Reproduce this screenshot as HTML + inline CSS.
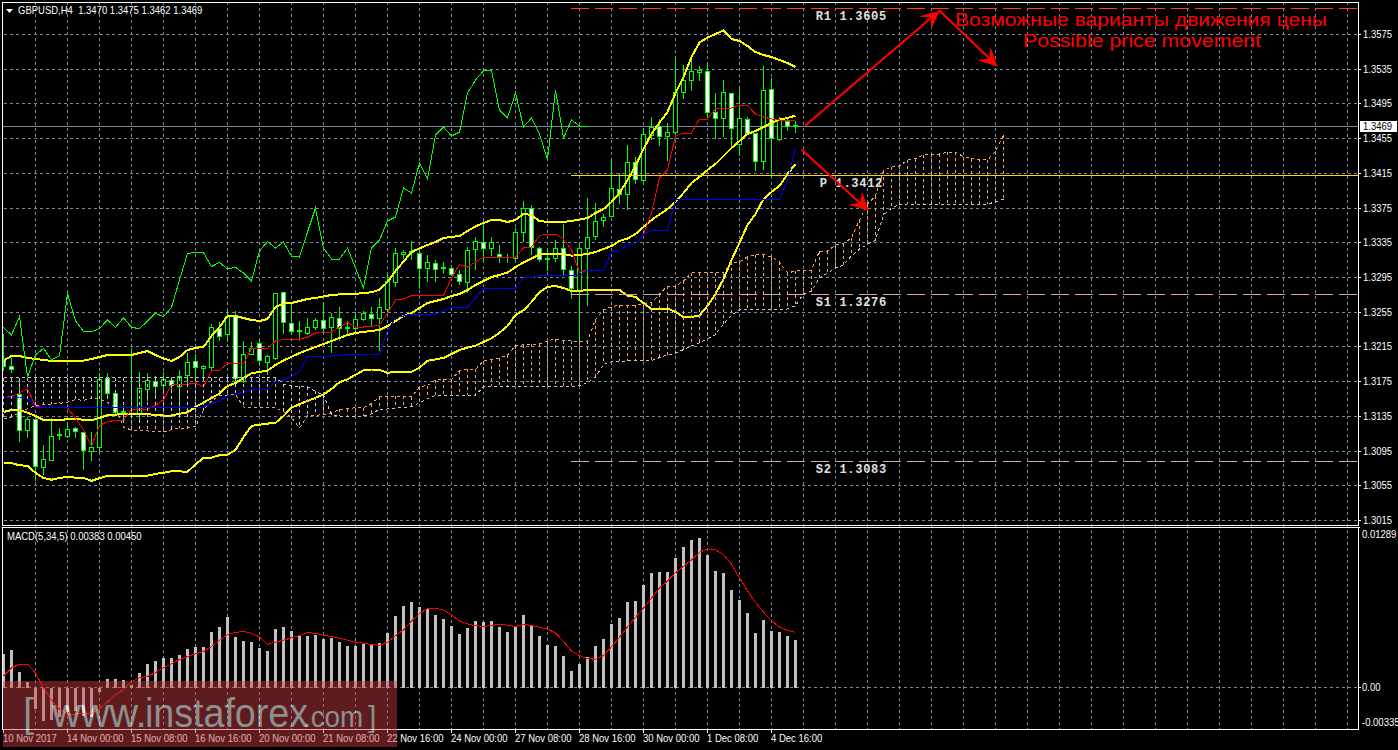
<!DOCTYPE html>
<html><head><meta charset="utf-8"><style>
html,body{margin:0;padding:0;background:#000;width:1398px;height:750px;overflow:hidden}
</style></head><body>
<svg width="1398" height="750" viewBox="0 0 1398 750" style="position:absolute;left:0;top:0">
<defs><clipPath id="cm"><rect x="3" y="3" width="1355" height="522"/></clipPath><clipPath id="cs"><rect x="3" y="528" width="1355" height="201"/></clipPath><mask id="wm"><rect x="0" y="0" width="1398" height="750" fill="#fff"/><text x="23" y="727" font-family="Liberation Sans" font-size="40" fill="#000">[</text><text x="52" y="727" font-family="Liberation Sans" font-size="40" textLength="86" lengthAdjust="spacingAndGlyphs" fill="#000">www</text><text x="135.5" y="727" font-family="Liberation Sans" font-size="40" fill="#000">.</text><text x="145" y="727" font-family="Liberation Sans" font-size="40" textLength="163" lengthAdjust="spacingAndGlyphs" fill="#000">instaforex</text><text x="303" y="727" font-family="Liberation Sans" font-size="30" textLength="60" lengthAdjust="spacingAndGlyphs" fill="#000">.com</text><text x="368" y="727" font-family="Liberation Sans" font-size="30" fill="#000">]</text></mask></defs>
<path d="M35.5,2V729M67.5,2V729M99.5,2V729M131.5,2V729M163.5,2V729M195.5,2V729M227.5,2V729M259.5,2V729M291.5,2V729M323.5,2V729M355.5,2V729M387.5,2V729M419.5,2V729M451.5,2V729M483.5,2V729M515.5,2V729M547.5,2V729M579.5,2V729M611.5,2V729M643.5,2V729M675.5,2V729M707.5,2V729M739.5,2V729M771.5,2V729M803.5,2V729M835.5,2V729M867.5,2V729M899.5,2V729M931.5,2V729M963.5,2V729M995.5,2V729M1027.5,2V729M1059.5,2V729M1091.5,2V729M1123.5,2V729M1155.5,2V729M1187.5,2V729M1219.5,2V729M1251.5,2V729M1283.5,2V729M1315.5,2V729M1347.5,2V729M4,34.5H1358M4,69.5H1358M4,103.5H1358M4,138.5H1358M4,173.5H1358M4,208.5H1358M4,242.5H1358M4,277.5H1358M4,312.5H1358M4,346.5H1358M4,381.5H1358M4,416.5H1358M4,451.5H1358M4,485.5H1358M4,520.5H1358M4,687.5H1358" stroke="#778899" stroke-width="1" stroke-dasharray="3 3" fill="none" shape-rendering="crispEdges"/>
<g clip-path="url(#cm)">
<path d="M3,126.5H1358" stroke="#778899" stroke-width="1" shape-rendering="crispEdges"/>
<path d="M3.5,334V371M11.5,358V373M19.5,380V442M27.5,417V438M35.5,419V481M43.5,445V475M51.5,418V461M59.5,428V440M67.5,422V438M75.5,427V438M83.5,432V470M91.5,432V461M99.5,373V452M107.5,373V397M115.5,393V414M123.5,406V420M131.5,348V418M139.5,372V420M147.5,373V401M155.5,376V396M163.5,372V392M171.5,377V390M179.5,370V418M187.5,353V385M195.5,354V382M203.5,365V379M211.5,324V370M219.5,322V341M227.5,310V342M235.5,311V387M243.5,341V383M251.5,342V355M259.5,340V366M267.5,355V375M275.5,293V360M283.5,292V334M291.5,304V335M299.5,321V341M307.5,318V335M315.5,318V330M323.5,302V332M331.5,313V353M339.5,307V341M347.5,321V336M355.5,312V332M363.5,311V321M371.5,307V327M379.5,298V351M387.5,274V313M395.5,248V287M403.5,250V259M411.5,241V260M419.5,250V289M427.5,255V282M435.5,260V282M443.5,262V274M451.5,265V276M459.5,270V285M467.5,247V293M475.5,237V270M483.5,221V263M491.5,237V256M499.5,245V263M507.5,254V263M515.5,228V260M523.5,201V242M531.5,205V255M539.5,247V262M547.5,248V271M555.5,240V262M563.5,224V275M571.5,266V299M579.5,243V342M587.5,198V306M595.5,203V240M603.5,214V227M611.5,160V217M619.5,173V204M627.5,145V210M635.5,157V184M643.5,128V183M651.5,117V140M659.5,119V146M667.5,123V161M675.5,56V139M683.5,65V99M691.5,60V91M699.5,66V81M707.5,62V119M715.5,93V139M723.5,80V137M731.5,93V147M739.5,89V156M747.5,117V135M755.5,133V171M763.5,66V170M771.5,78V177M779.5,117V141M787.5,117V131M795.5,121V133" stroke="#00ff00" stroke-width="1" shape-rendering="crispEdges"/>
<rect x="1.5" y="359.5" width="4" height="7" fill="#ffffff" stroke="#00ff00" stroke-width="1" shape-rendering="crispEdges"/>
<rect x="9.5" y="366.5" width="4" height="3" fill="#ffffff" stroke="#00ff00" stroke-width="1" shape-rendering="crispEdges"/>
<rect x="17.5" y="394.5" width="4" height="36" fill="#ffffff" stroke="#00ff00" stroke-width="1" shape-rendering="crispEdges"/>
<rect x="25.5" y="419.5" width="4" height="11" fill="#000000" stroke="#00ff00" stroke-width="1" shape-rendering="crispEdges"/>
<rect x="33.5" y="419.5" width="4" height="47" fill="#ffffff" stroke="#00ff00" stroke-width="1" shape-rendering="crispEdges"/>
<rect x="41.5" y="459.5" width="4" height="8" fill="#000000" stroke="#00ff00" stroke-width="1" shape-rendering="crispEdges"/>
<rect x="49.5" y="436.5" width="4" height="24" fill="#000000" stroke="#00ff00" stroke-width="1" shape-rendering="crispEdges"/>
<rect x="57" y="434" width="5" height="2" fill="#00ff00"/>
<rect x="65.5" y="429.5" width="4" height="7" fill="#000000" stroke="#00ff00" stroke-width="1" shape-rendering="crispEdges"/>
<rect x="73.5" y="428.5" width="4" height="3" fill="#ffffff" stroke="#00ff00" stroke-width="1" shape-rendering="crispEdges"/>
<rect x="81.5" y="432.5" width="4" height="18" fill="#ffffff" stroke="#00ff00" stroke-width="1" shape-rendering="crispEdges"/>
<rect x="89.5" y="447.5" width="4" height="4" fill="#000000" stroke="#00ff00" stroke-width="1" shape-rendering="crispEdges"/>
<rect x="97.5" y="379.5" width="4" height="68" fill="#000000" stroke="#00ff00" stroke-width="1" shape-rendering="crispEdges"/>
<rect x="105.5" y="378.5" width="4" height="15" fill="#ffffff" stroke="#00ff00" stroke-width="1" shape-rendering="crispEdges"/>
<rect x="113.5" y="393.5" width="4" height="19" fill="#ffffff" stroke="#00ff00" stroke-width="1" shape-rendering="crispEdges"/>
<rect x="121" y="411" width="5" height="2" fill="#00ff00"/>
<rect x="129" y="413" width="5" height="2" fill="#00ff00"/>
<rect x="137.5" y="388.5" width="4" height="26" fill="#000000" stroke="#00ff00" stroke-width="1" shape-rendering="crispEdges"/>
<rect x="145.5" y="380.5" width="4" height="9" fill="#000000" stroke="#00ff00" stroke-width="1" shape-rendering="crispEdges"/>
<rect x="153.5" y="381.5" width="4" height="5" fill="#ffffff" stroke="#00ff00" stroke-width="1" shape-rendering="crispEdges"/>
<rect x="161.5" y="379.5" width="4" height="6" fill="#000000" stroke="#00ff00" stroke-width="1" shape-rendering="crispEdges"/>
<rect x="169.5" y="380.5" width="4" height="5" fill="#ffffff" stroke="#00ff00" stroke-width="1" shape-rendering="crispEdges"/>
<rect x="177.5" y="376.5" width="4" height="10" fill="#000000" stroke="#00ff00" stroke-width="1" shape-rendering="crispEdges"/>
<rect x="185.5" y="362.5" width="4" height="13" fill="#000000" stroke="#00ff00" stroke-width="1" shape-rendering="crispEdges"/>
<rect x="193.5" y="361.5" width="4" height="6" fill="#ffffff" stroke="#00ff00" stroke-width="1" shape-rendering="crispEdges"/>
<rect x="201.5" y="366.5" width="4" height="2" fill="#000000" stroke="#00ff00" stroke-width="1" shape-rendering="crispEdges"/>
<rect x="209.5" y="327.5" width="4" height="40" fill="#000000" stroke="#00ff00" stroke-width="1" shape-rendering="crispEdges"/>
<rect x="217.5" y="328.5" width="4" height="8" fill="#ffffff" stroke="#00ff00" stroke-width="1" shape-rendering="crispEdges"/>
<rect x="225.5" y="316.5" width="4" height="18" fill="#000000" stroke="#00ff00" stroke-width="1" shape-rendering="crispEdges"/>
<rect x="233.5" y="316.5" width="4" height="62" fill="#ffffff" stroke="#00ff00" stroke-width="1" shape-rendering="crispEdges"/>
<rect x="241.5" y="354.5" width="4" height="27" fill="#000000" stroke="#00ff00" stroke-width="1" shape-rendering="crispEdges"/>
<rect x="249.5" y="348.5" width="4" height="6" fill="#000000" stroke="#00ff00" stroke-width="1" shape-rendering="crispEdges"/>
<rect x="257.5" y="343.5" width="4" height="17" fill="#ffffff" stroke="#00ff00" stroke-width="1" shape-rendering="crispEdges"/>
<rect x="265.5" y="356.5" width="4" height="6" fill="#000000" stroke="#00ff00" stroke-width="1" shape-rendering="crispEdges"/>
<rect x="273.5" y="293.5" width="4" height="65" fill="#000000" stroke="#00ff00" stroke-width="1" shape-rendering="crispEdges"/>
<rect x="281.5" y="292.5" width="4" height="30" fill="#ffffff" stroke="#00ff00" stroke-width="1" shape-rendering="crispEdges"/>
<rect x="289.5" y="323.5" width="4" height="8" fill="#ffffff" stroke="#00ff00" stroke-width="1" shape-rendering="crispEdges"/>
<rect x="297" y="330" width="5" height="2" fill="#00ff00"/>
<rect x="305.5" y="327.5" width="4" height="6" fill="#000000" stroke="#00ff00" stroke-width="1" shape-rendering="crispEdges"/>
<rect x="313.5" y="320.5" width="4" height="7" fill="#000000" stroke="#00ff00" stroke-width="1" shape-rendering="crispEdges"/>
<rect x="321.5" y="320.5" width="4" height="8" fill="#ffffff" stroke="#00ff00" stroke-width="1" shape-rendering="crispEdges"/>
<rect x="329.5" y="317.5" width="4" height="10" fill="#000000" stroke="#00ff00" stroke-width="1" shape-rendering="crispEdges"/>
<rect x="337.5" y="318.5" width="4" height="10" fill="#ffffff" stroke="#00ff00" stroke-width="1" shape-rendering="crispEdges"/>
<rect x="345" y="327" width="5" height="2" fill="#00ff00"/>
<rect x="353.5" y="319.5" width="4" height="9" fill="#000000" stroke="#00ff00" stroke-width="1" shape-rendering="crispEdges"/>
<rect x="361.5" y="313.5" width="4" height="6" fill="#000000" stroke="#00ff00" stroke-width="1" shape-rendering="crispEdges"/>
<rect x="369.5" y="314.5" width="4" height="4" fill="#ffffff" stroke="#00ff00" stroke-width="1" shape-rendering="crispEdges"/>
<rect x="377.5" y="307.5" width="4" height="11" fill="#000000" stroke="#00ff00" stroke-width="1" shape-rendering="crispEdges"/>
<rect x="385.5" y="281.5" width="4" height="28" fill="#000000" stroke="#00ff00" stroke-width="1" shape-rendering="crispEdges"/>
<rect x="393.5" y="253.5" width="4" height="29" fill="#000000" stroke="#00ff00" stroke-width="1" shape-rendering="crispEdges"/>
<rect x="401.5" y="252.5" width="4" height="2" fill="#000000" stroke="#00ff00" stroke-width="1" shape-rendering="crispEdges"/>
<rect x="409" y="251" width="5" height="2" fill="#00ff00"/>
<rect x="417.5" y="253.5" width="4" height="15" fill="#ffffff" stroke="#00ff00" stroke-width="1" shape-rendering="crispEdges"/>
<rect x="425.5" y="262.5" width="4" height="6" fill="#000000" stroke="#00ff00" stroke-width="1" shape-rendering="crispEdges"/>
<rect x="433.5" y="263.5" width="4" height="6" fill="#ffffff" stroke="#00ff00" stroke-width="1" shape-rendering="crispEdges"/>
<rect x="441" y="267" width="5" height="2" fill="#00ff00"/>
<rect x="449.5" y="268.5" width="4" height="6" fill="#ffffff" stroke="#00ff00" stroke-width="1" shape-rendering="crispEdges"/>
<rect x="457.5" y="274.5" width="4" height="7" fill="#ffffff" stroke="#00ff00" stroke-width="1" shape-rendering="crispEdges"/>
<rect x="465.5" y="250.5" width="4" height="32" fill="#000000" stroke="#00ff00" stroke-width="1" shape-rendering="crispEdges"/>
<rect x="473.5" y="241.5" width="4" height="8" fill="#000000" stroke="#00ff00" stroke-width="1" shape-rendering="crispEdges"/>
<rect x="481.5" y="242.5" width="4" height="6" fill="#ffffff" stroke="#00ff00" stroke-width="1" shape-rendering="crispEdges"/>
<rect x="489.5" y="242.5" width="4" height="6" fill="#000000" stroke="#00ff00" stroke-width="1" shape-rendering="crispEdges"/>
<rect x="497.5" y="254.5" width="4" height="2" fill="#ffffff" stroke="#00ff00" stroke-width="1" shape-rendering="crispEdges"/>
<rect x="505" y="257" width="5" height="1" fill="#00ff00"/>
<rect x="513.5" y="232.5" width="4" height="26" fill="#000000" stroke="#00ff00" stroke-width="1" shape-rendering="crispEdges"/>
<rect x="521.5" y="208.5" width="4" height="24" fill="#000000" stroke="#00ff00" stroke-width="1" shape-rendering="crispEdges"/>
<rect x="529.5" y="208.5" width="4" height="39" fill="#ffffff" stroke="#00ff00" stroke-width="1" shape-rendering="crispEdges"/>
<rect x="537.5" y="248.5" width="4" height="11" fill="#ffffff" stroke="#00ff00" stroke-width="1" shape-rendering="crispEdges"/>
<rect x="545" y="258" width="5" height="2" fill="#00ff00"/>
<rect x="553.5" y="248.5" width="4" height="10" fill="#000000" stroke="#00ff00" stroke-width="1" shape-rendering="crispEdges"/>
<rect x="561.5" y="248.5" width="4" height="21" fill="#ffffff" stroke="#00ff00" stroke-width="1" shape-rendering="crispEdges"/>
<rect x="569.5" y="270.5" width="4" height="18" fill="#ffffff" stroke="#00ff00" stroke-width="1" shape-rendering="crispEdges"/>
<rect x="577.5" y="248.5" width="4" height="42" fill="#000000" stroke="#00ff00" stroke-width="1" shape-rendering="crispEdges"/>
<rect x="585.5" y="237.5" width="4" height="11" fill="#000000" stroke="#00ff00" stroke-width="1" shape-rendering="crispEdges"/>
<rect x="593.5" y="221.5" width="4" height="15" fill="#000000" stroke="#00ff00" stroke-width="1" shape-rendering="crispEdges"/>
<rect x="601.5" y="217.5" width="4" height="3" fill="#000000" stroke="#00ff00" stroke-width="1" shape-rendering="crispEdges"/>
<rect x="609.5" y="188.5" width="4" height="28" fill="#000000" stroke="#00ff00" stroke-width="1" shape-rendering="crispEdges"/>
<rect x="617.5" y="189.5" width="4" height="5" fill="#ffffff" stroke="#00ff00" stroke-width="1" shape-rendering="crispEdges"/>
<rect x="625.5" y="162.5" width="4" height="32" fill="#000000" stroke="#00ff00" stroke-width="1" shape-rendering="crispEdges"/>
<rect x="633.5" y="162.5" width="4" height="17" fill="#ffffff" stroke="#00ff00" stroke-width="1" shape-rendering="crispEdges"/>
<rect x="641.5" y="134.5" width="4" height="46" fill="#000000" stroke="#00ff00" stroke-width="1" shape-rendering="crispEdges"/>
<rect x="649.5" y="127.5" width="4" height="8" fill="#000000" stroke="#00ff00" stroke-width="1" shape-rendering="crispEdges"/>
<rect x="657.5" y="126.5" width="4" height="10" fill="#ffffff" stroke="#00ff00" stroke-width="1" shape-rendering="crispEdges"/>
<rect x="665.5" y="132.5" width="4" height="4" fill="#000000" stroke="#00ff00" stroke-width="1" shape-rendering="crispEdges"/>
<rect x="673.5" y="92.5" width="4" height="40" fill="#000000" stroke="#00ff00" stroke-width="1" shape-rendering="crispEdges"/>
<rect x="681.5" y="80.5" width="4" height="12" fill="#000000" stroke="#00ff00" stroke-width="1" shape-rendering="crispEdges"/>
<rect x="689.5" y="71.5" width="4" height="9" fill="#000000" stroke="#00ff00" stroke-width="1" shape-rendering="crispEdges"/>
<rect x="697.5" y="70.5" width="4" height="2" fill="#000000" stroke="#00ff00" stroke-width="1" shape-rendering="crispEdges"/>
<rect x="705.5" y="71.5" width="4" height="41" fill="#ffffff" stroke="#00ff00" stroke-width="1" shape-rendering="crispEdges"/>
<rect x="713.5" y="112.5" width="4" height="6" fill="#ffffff" stroke="#00ff00" stroke-width="1" shape-rendering="crispEdges"/>
<rect x="721.5" y="92.5" width="4" height="26" fill="#000000" stroke="#00ff00" stroke-width="1" shape-rendering="crispEdges"/>
<rect x="729.5" y="93.5" width="4" height="35" fill="#ffffff" stroke="#00ff00" stroke-width="1" shape-rendering="crispEdges"/>
<rect x="737.5" y="118.5" width="4" height="26" fill="#000000" stroke="#00ff00" stroke-width="1" shape-rendering="crispEdges"/>
<rect x="745.5" y="119.5" width="4" height="14" fill="#ffffff" stroke="#00ff00" stroke-width="1" shape-rendering="crispEdges"/>
<rect x="753.5" y="133.5" width="4" height="28" fill="#ffffff" stroke="#00ff00" stroke-width="1" shape-rendering="crispEdges"/>
<rect x="761.5" y="90.5" width="4" height="71" fill="#000000" stroke="#00ff00" stroke-width="1" shape-rendering="crispEdges"/>
<rect x="769.5" y="89.5" width="4" height="49" fill="#ffffff" stroke="#00ff00" stroke-width="1" shape-rendering="crispEdges"/>
<rect x="777.5" y="120.5" width="4" height="19" fill="#000000" stroke="#00ff00" stroke-width="1" shape-rendering="crispEdges"/>
<rect x="785.5" y="121.5" width="4" height="5" fill="#ffffff" stroke="#00ff00" stroke-width="1" shape-rendering="crispEdges"/>
<rect x="793" y="125" width="5" height="2" fill="#00ff00"/>
<polyline points="3.5,360.5 11.5,356.0 19.5,356.0 27.5,358.0 35.5,359.0 43.5,360.0 51.5,361.0 59.5,361.0 67.5,360.6 75.5,361.0 83.5,360.6 91.5,359.0 99.5,357.0 107.5,355.0 115.5,355.0 123.5,355.0 131.5,355.0 139.5,353.0 147.5,351.0 155.5,355.0 163.5,358.5 171.5,361.0 179.5,357.0 187.5,350.0 195.5,348.0 203.5,347.0 211.5,336.0 219.5,327.0 227.5,316.0 235.5,316.0 243.5,318.0 251.5,320.0 259.5,321.0 267.5,319.0 275.5,307.0 283.5,303.6 291.5,303.0 299.5,301.0 307.5,299.0 315.5,298.0 323.5,296.4 331.5,295.0 339.5,294.4 347.5,294.0 355.5,294.0 363.5,293.0 371.5,292.3 379.5,289.8 387.5,282.0 395.5,271.0 403.5,261.6 411.5,252.0 419.5,248.3 427.5,245.0 435.5,242.0 443.5,238.0 451.5,237.0 459.5,236.0 467.5,231.0 475.5,226.4 483.5,223.0 491.5,220.0 499.5,220.0 507.5,222.0 515.5,220.0 523.5,214.0 531.5,215.0 539.5,221.0 547.5,222.0 555.5,222.0 563.5,222.0 571.5,221.0 579.5,219.6 587.5,218.0 595.5,213.0 603.5,209.0 611.5,202.0 619.5,193.0 627.5,180.0 635.5,166.0 643.5,149.0 651.5,134.0 659.5,122.5 667.5,112.0 675.5,93.0 683.5,77.0 691.5,57.0 699.5,42.5 707.5,37.5 715.5,34.0 723.5,30.5 731.5,39.0 739.5,41.0 747.5,46.0 755.5,52.0 763.5,55.0 771.5,57.0 779.5,60.0 787.5,63.0 795.5,67.0" stroke="#ffff00" stroke-width="2" fill="none" stroke-linejoin="round" shape-rendering="crispEdges"/>
<polyline points="3.5,412.0 11.5,410.0 19.5,410.0 27.5,412.6 35.5,415.9 43.5,420.0 51.5,420.4 59.5,420.4 67.5,419.0 75.5,419.0 83.5,419.7 91.5,420.4 99.5,417.8 107.5,415.2 115.5,414.6 123.5,414.0 131.5,414.0 139.5,414.2 147.5,414.0 155.5,415.2 163.5,415.5 171.5,415.5 179.5,413.8 187.5,412.3 195.5,407.0 203.5,402.6 211.5,398.0 219.5,393.6 227.5,386.0 235.5,383.0 243.5,377.8 251.5,373.3 259.5,371.8 267.5,370.7 275.5,365.0 283.5,360.5 291.5,356.8 299.5,353.0 307.5,350.0 315.5,347.0 323.5,344.0 331.5,341.0 339.5,338.0 347.5,335.0 355.5,333.0 363.5,332.0 371.5,331.0 379.5,330.0 387.5,326.0 395.5,321.0 403.5,316.0 411.5,313.0 419.5,308.0 427.5,303.0 435.5,301.0 443.5,299.0 451.5,296.0 459.5,294.0 467.5,290.0 475.5,285.0 483.5,281.0 491.5,277.0 499.5,275.0 507.5,272.5 515.5,267.0 523.5,262.5 531.5,258.5 539.5,254.5 547.5,254.0 555.5,253.6 563.5,254.0 571.5,255.6 579.5,255.0 587.5,254.0 595.5,252.0 603.5,249.0 611.5,246.0 619.5,241.0 627.5,238.5 635.5,234.0 643.5,227.0 651.5,220.0 659.5,214.5 667.5,209.0 675.5,202.0 683.5,193.0 691.5,183.0 699.5,177.0 707.5,170.0 715.5,164.0 723.5,156.0 731.5,148.0 739.5,141.0 747.5,134.0 755.5,131.0 763.5,127.0 771.5,123.0 779.5,119.5 787.5,118.0 795.5,115.6" stroke="#ffff00" stroke-width="2" fill="none" stroke-linejoin="round" shape-rendering="crispEdges"/>
<polyline points="3.5,463.2 11.5,463.2 19.5,465.3 27.5,465.8 35.5,472.8 43.5,478.0 51.5,479.7 59.5,478.0 67.5,477.0 75.5,477.6 83.5,478.0 91.5,480.8 99.5,478.2 107.5,475.7 115.5,475.7 123.5,475.7 131.5,475.7 139.5,475.7 147.5,475.7 155.5,473.9 163.5,472.8 171.5,471.2 179.5,471.4 187.5,471.8 195.5,464.3 203.5,457.9 211.5,457.6 219.5,455.2 227.5,454.7 235.5,450.0 243.5,437.0 251.5,425.9 259.5,424.8 267.5,423.6 275.5,422.9 283.5,416.0 291.5,407.8 299.5,404.0 307.5,401.0 315.5,397.8 323.5,394.3 331.5,389.0 339.5,382.3 347.5,379.3 355.5,374.8 363.5,370.3 371.5,369.5 379.5,370.0 387.5,372.8 395.5,372.0 403.5,372.0 411.5,371.9 419.5,367.6 427.5,360.7 435.5,359.4 443.5,357.9 451.5,354.0 459.5,350.0 467.5,347.6 475.5,345.7 483.5,342.0 491.5,338.3 499.5,332.7 507.5,326.0 515.5,315.0 523.5,310.3 531.5,302.0 539.5,292.0 547.5,287.0 555.5,286.0 563.5,288.0 571.5,291.0 579.5,291.0 587.5,290.0 595.5,290.0 603.5,290.0 611.5,290.4 619.5,290.0 627.5,295.6 635.5,297.0 643.5,303.0 651.5,309.0 659.5,309.0 667.5,308.5 675.5,312.0 683.5,317.0 691.5,317.0 699.5,315.4 707.5,305.8 715.5,294.0 723.5,279.0 731.5,260.0 739.5,242.8 747.5,225.0 755.5,214.0 763.5,199.0 771.5,192.0 779.5,186.0 787.5,174.0 795.5,164.0" stroke="#ffff00" stroke-width="2" fill="none" stroke-linejoin="round" shape-rendering="crispEdges"/>
<polyline points="3.5,397.5 11.5,396.5 19.5,392.7 27.5,388.8 35.5,406.5 43.5,407.5 51.5,407.5 59.5,407.5 67.5,408.0 75.5,418.0 83.5,430.0 91.5,446.0 99.5,425.5 107.5,421.6 115.5,420.4 123.5,420.4 131.5,409.4 139.5,409.4 147.5,409.0 155.5,405.6 163.5,399.5 171.5,384.3 179.5,384.3 187.5,384.2 195.5,383.3 203.5,386.5 211.5,371.0 219.5,370.3 227.5,363.6 235.5,363.6 243.5,363.6 251.5,349.0 259.5,348.4 267.5,348.4 275.5,341.0 283.5,339.6 291.5,339.0 299.5,339.0 307.5,337.0 315.5,333.0 323.5,332.0 331.5,332.0 339.5,327.0 347.5,322.4 355.5,327.0 363.5,327.0 371.5,326.4 379.5,325.0 387.5,313.0 395.5,300.0 403.5,299.0 411.5,295.6 419.5,295.6 427.5,295.6 435.5,295.6 443.5,295.6 451.5,278.0 459.5,264.4 467.5,267.0 475.5,262.0 483.5,257.0 491.5,257.0 499.5,257.0 507.5,257.0 515.5,257.0 523.5,248.0 531.5,247.0 539.5,235.6 547.5,234.0 555.5,234.0 563.5,239.0 571.5,250.0 579.5,272.4 587.5,270.0 595.5,270.0 603.5,270.0 611.5,252.0 619.5,251.0 627.5,244.4 635.5,244.0 643.5,234.4 651.5,213.0 659.5,178.0 667.5,170.0 675.5,136.0 683.5,133.0 691.5,133.0 699.5,119.0 707.5,119.0 715.5,108.4 723.5,108.4 731.5,108.0 739.5,105.0 747.5,105.6 755.5,114.0 763.5,117.0 771.5,119.0 779.5,120.0 787.5,120.0 795.5,120.4" stroke="#ff0000" stroke-width="1" fill="none" shape-rendering="crispEdges"/>
<polyline points="3.5,397.5 11.5,397.5 19.5,397.5 27.5,397.5 35.5,407.4 43.5,407.4 51.5,407.4 59.5,407.4 67.5,407.4 75.5,407.4 83.5,407.4 91.5,407.4 99.5,407.4 107.5,407.4 115.5,407.4 123.5,407.4 131.5,407.4 139.5,407.4 147.5,407.4 155.5,407.4 163.5,407.4 171.5,407.4 179.5,407.4 187.5,407.4 195.5,407.4 203.5,407.0 211.5,403.3 219.5,401.0 227.5,395.6 235.5,394.3 243.5,392.0 251.5,389.4 259.5,389.4 267.5,389.4 275.5,381.8 283.5,380.0 291.5,376.3 299.5,371.8 307.5,356.5 315.5,356.5 323.5,356.3 331.5,356.0 339.5,355.5 347.5,354.5 355.5,354.3 363.5,354.2 371.5,354.0 379.5,354.0 387.5,331.0 395.5,317.6 403.5,316.0 411.5,314.0 419.5,314.0 427.5,314.0 435.5,314.0 443.5,311.0 451.5,307.7 459.5,307.3 467.5,307.2 475.5,298.0 483.5,288.0 491.5,288.0 499.5,288.0 507.5,288.0 515.5,288.0 523.5,277.6 531.5,277.6 539.5,275.6 547.5,275.6 555.5,275.6 563.5,275.6 571.5,275.6 579.5,275.6 587.5,270.0 595.5,270.0 603.5,270.0 611.5,252.0 619.5,251.0 627.5,244.4 635.5,244.0 643.5,234.4 651.5,230.0 659.5,230.0 667.5,230.0 675.5,200.0 683.5,199.6 691.5,199.6 699.5,199.6 707.5,199.6 715.5,199.6 723.5,199.6 731.5,199.6 739.5,199.6 747.5,199.6 755.5,199.6 763.5,199.6 771.5,199.6 779.5,199.6 787.5,180.0 795.5,148.0" stroke="#0000ff" stroke-width="1" fill="none" shape-rendering="crispEdges"/>
<polyline points="3.5,327.5 11.5,335.0 19.5,316.6 27.5,377.0 35.5,355.0 43.5,348.4 51.5,360.0 59.5,355.8 67.5,293.6 75.5,321.0 83.5,331.6 91.5,331.6 99.5,328.5 107.5,320.0 115.5,327.4 123.5,317.8 131.5,327.4 139.5,328.6 147.5,321.0 155.5,313.2 163.5,316.8 171.5,307.2 179.5,280.0 187.5,253.3 195.5,252.6 203.5,252.6 211.5,266.5 219.5,262.4 227.5,269.0 235.5,267.4 243.5,273.0 251.5,281.0 259.5,251.0 267.5,241.6 275.5,248.0 283.5,242.0 291.5,256.0 299.5,257.0 307.5,232.0 315.5,208.0 323.5,248.0 331.5,259.0 339.5,259.0 347.5,248.0 355.5,268.0 363.5,288.0 371.5,248.0 379.5,240.0 387.5,221.0 395.5,217.0 403.5,188.0 411.5,193.0 419.5,163.0 427.5,179.0 435.5,135.0 443.5,127.0 451.5,136.0 459.5,132.0 467.5,93.0 475.5,80.0 483.5,71.0 491.5,70.0 499.5,110.0 507.5,118.0 515.5,93.0 523.5,127.0 531.5,118.0 539.5,134.0 547.5,160.0 555.5,90.0 563.5,138.0 571.5,120.0 579.5,126.0 587.5,126.0" stroke="#00ff00" stroke-width="1" fill="none" shape-rendering="crispEdges"/>
<path d="M3.5,334V370" stroke="#00ff00" stroke-width="1" shape-rendering="crispEdges"/>
<path d="M331.5,413.0V414.6M339.5,409.3V416.0M347.5,408.6V416.0M355.5,407.8V416.0M363.5,407.8V416.0M371.5,403.5V413.9M379.5,397.0V409.2M387.5,396.0V409.0M395.5,396.0V408.3M403.5,396.0V407.3M411.5,397.0V406.8M419.5,386.8V402.7M427.5,385.5V398.9M435.5,380.0V395.2M443.5,379.3V395.2M451.5,379.3V395.2M459.5,370.6V395.2M467.5,369.4V395.2M475.5,369.4V395.2M483.5,360.7V386.8M491.5,359.7V386.2M499.5,357.9V386.2M507.5,355.0V386.2M515.5,345.7V386.2M523.5,344.8V386.2M531.5,344.4V386.2M539.5,343.9V386.2M547.5,340.7V386.2M555.5,339.2V386.2M563.5,340.7V386.2M571.5,341.0V386.8M579.5,341.0V385.8M587.5,341.0V382.6M595.5,319.6V377.0M603.5,310.0V364.4M611.5,306.8V361.9M619.5,305.0V361.0M627.5,305.0V361.0M635.5,305.0V360.6M643.5,304.7V360.6M651.5,302.6V360.6M659.5,294.0V357.6M667.5,286.0V354.8M675.5,286.0V353.3M683.5,281.0V349.5M691.5,272.7V346.3M699.5,272.7V342.7M707.5,272.7V338.8M715.5,272.7V334.6M723.5,272.7V324.0M731.5,262.0V315.4M739.5,262.0V310.0M747.5,256.7V309.4M755.5,254.5V309.4M763.5,254.5V309.4M771.5,257.0V309.6M779.5,262.0V309.6M787.5,273.0V309.0M795.5,271.0V305.6M803.5,270.0V294.0M811.5,270.0V291.0M819.5,251.0V278.0M827.5,251.0V273.0M835.5,245.0V268.0M843.5,243.6V265.0M851.5,238.0V256.0M859.5,220.0V249.0M867.5,204.0V244.4M875.5,196.0V240.0M883.5,170.7V215.0M891.5,167.0V208.0M899.5,166.0V204.3M907.5,160.0V204.0M915.5,158.7V204.0M923.5,155.0V204.0M931.5,154.4V204.0M939.5,154.0V204.0M947.5,152.3V204.0M955.5,152.3V204.0M963.5,156.7V204.0M971.5,158.7V204.0M979.5,159.3V204.0M987.5,160.0V204.0M995.5,151.3V202.0M1003.5,135.3V199.3" stroke="#f4a460" stroke-width="1" stroke-dasharray="3 3" fill="none" shape-rendering="crispEdges"/>
<path d="M3.5,377.5V418.4M11.5,377.5V417.8M19.5,377.5V412.0M27.5,377.5V408.8M35.5,377.5V405.6M43.5,377.5V404.7M51.5,377.5V404.3M59.5,377.5V403.4M67.5,377.5V402.3M75.5,377.5V399.5M83.5,377.5V400.4M91.5,377.5V398.7M99.5,377.5V399.0M107.5,377.5V402.3M115.5,377.5V408.0M123.5,377.5V427.4M131.5,377.5V430.0M139.5,377.5V430.7M147.5,377.5V431.0M155.5,377.5V431.5M163.5,377.5V432.0M171.5,377.5V429.4M179.5,377.5V428.0M187.5,377.5V428.0M195.5,377.5V426.6M203.5,377.5V410.0M211.5,377.5V401.0M219.5,377.5V395.8M227.5,377.5V395.0M235.5,377.5V394.3M243.5,377.5V407.0M251.5,377.5V407.8M259.5,377.5V407.8M267.5,377.5V407.8M275.5,377.8V407.8M283.5,383.8V411.6M291.5,386.0V417.6M299.5,386.0V428.0M307.5,386.8V416.0M315.5,391.3V415.3M323.5,395.0V414.6" stroke="#d8bfd8" stroke-width="1" stroke-dasharray="3 3" fill="none" shape-rendering="crispEdges"/>
<polyline points="3.5,418.4 11.5,417.8 19.5,412.0 27.5,408.8 35.5,405.6 43.5,404.7 51.5,404.3 59.5,403.4 67.5,402.3 75.5,399.5 83.5,400.4 91.5,398.7 99.5,399.0 107.5,402.3 115.5,408.0 123.5,427.4 131.5,430.0 139.5,430.7 147.5,431.0 155.5,431.5 163.5,432.0 171.5,429.4 179.5,428.0 187.5,428.0 195.5,426.6 203.5,410.0 211.5,401.0 219.5,395.8 227.5,395.0 235.5,394.3 243.5,407.0 251.5,407.8 259.5,407.8 267.5,407.8 275.5,407.8 283.5,411.6 291.5,417.6 299.5,428.0 307.5,416.0 315.5,415.3 323.5,414.6 331.5,413.0 339.5,409.3 347.5,408.6 355.5,407.8 363.5,407.8 371.5,403.5 379.5,397.0 387.5,396.0 395.5,396.0 403.5,396.0 411.5,397.0 419.5,386.8 427.5,385.5 435.5,380.0 443.5,379.3 451.5,379.3 459.5,370.6 467.5,369.4 475.5,369.4 483.5,360.7 491.5,359.7 499.5,357.9 507.5,355.0 515.5,345.7 523.5,344.8 531.5,344.4 539.5,343.9 547.5,340.7 555.5,339.2 563.5,340.7 571.5,341.0 579.5,341.0 587.5,341.0 595.5,319.6 603.5,310.0 611.5,306.8 619.5,305.0 627.5,305.0 635.5,305.0 643.5,304.7 651.5,302.6 659.5,294.0 667.5,286.0 675.5,286.0 683.5,281.0 691.5,272.7 699.5,272.7 707.5,272.7 715.5,272.7 723.5,272.7 731.5,262.0 739.5,262.0 747.5,256.7 755.5,254.5 763.5,254.5 771.5,257.0 779.5,262.0 787.5,273.0 795.5,271.0 803.5,270.0 811.5,270.0 819.5,251.0 827.5,251.0 835.5,245.0 843.5,243.6 851.5,238.0 859.5,220.0 867.5,204.0 875.5,196.0 883.5,170.7 891.5,167.0 899.5,166.0 907.5,160.0 915.5,158.7 923.5,155.0 931.5,154.4 939.5,154.0 947.5,152.3 955.5,152.3 963.5,156.7 971.5,158.7 979.5,159.3 987.5,160.0 995.5,151.3 1003.5,135.3" stroke="#f4a460" stroke-width="1" stroke-dasharray="3 3" fill="none" shape-rendering="crispEdges"/>
<polyline points="3.5,377.5 11.5,377.5 19.5,377.5 27.5,377.5 35.5,377.5 43.5,377.5 51.5,377.5 59.5,377.5 67.5,377.5 75.5,377.5 83.5,377.5 91.5,377.5 99.5,377.5 107.5,377.5 115.5,377.5 123.5,377.5 131.5,377.5 139.5,377.5 147.5,377.5 155.5,377.5 163.5,377.5 171.5,377.5 179.5,377.5 187.5,377.5 195.5,377.5 203.5,377.5 211.5,377.5 219.5,377.5 227.5,377.5 235.5,377.5 243.5,377.5 251.5,377.5 259.5,377.5 267.5,377.5 275.5,377.8 283.5,383.8 291.5,386.0 299.5,386.0 307.5,386.8 315.5,391.3 323.5,395.0 331.5,414.6 339.5,416.0 347.5,416.0 355.5,416.0 363.5,416.0 371.5,413.9 379.5,409.2 387.5,409.0 395.5,408.3 403.5,407.3 411.5,406.8 419.5,402.7 427.5,398.9 435.5,395.2 443.5,395.2 451.5,395.2 459.5,395.2 467.5,395.2 475.5,395.2 483.5,386.8 491.5,386.2 499.5,386.2 507.5,386.2 515.5,386.2 523.5,386.2 531.5,386.2 539.5,386.2 547.5,386.2 555.5,386.2 563.5,386.2 571.5,386.8 579.5,385.8 587.5,382.6 595.5,377.0 603.5,364.4 611.5,361.9 619.5,361.0 627.5,361.0 635.5,360.6 643.5,360.6 651.5,360.6 659.5,357.6 667.5,354.8 675.5,353.3 683.5,349.5 691.5,346.3 699.5,342.7 707.5,338.8 715.5,334.6 723.5,324.0 731.5,315.4 739.5,310.0 747.5,309.4 755.5,309.4 763.5,309.4 771.5,309.6 779.5,309.6 787.5,309.0 795.5,305.6 803.5,294.0 811.5,291.0 819.5,278.0 827.5,273.0 835.5,268.0 843.5,265.0 851.5,256.0 859.5,249.0 867.5,244.4 875.5,240.0 883.5,215.0 891.5,208.0 899.5,204.3 907.5,204.0 915.5,204.0 923.5,204.0 931.5,204.0 939.5,204.0 947.5,204.0 955.5,204.0 963.5,204.0 971.5,204.0 979.5,204.0 987.5,204.0 995.5,202.0 1003.5,199.3" stroke="#d8bfd8" stroke-width="1" stroke-dasharray="3 3" fill="none" shape-rendering="crispEdges"/>
<path d="M571,8.5H1358" stroke="#ff4500" stroke-width="1" stroke-dasharray="18 6" shape-rendering="crispEdges"/>
<path d="M571,175.5H1358" stroke="#ffd700" stroke-width="1" shape-rendering="crispEdges"/>
<path d="M571,294.5H1358" stroke="#d8a0a0" stroke-width="1" stroke-dasharray="18 6" shape-rendering="crispEdges"/>
<path d="M571,461.5H1358" stroke="#d8a0a0" stroke-width="1" stroke-dasharray="18 6" shape-rendering="crispEdges"/>
<text transform="translate(851,19.5) scale(0.91,1)" x="0.35" y="0" font-family="Liberation Mono" font-weight="bold" font-size="13.33" fill="#e0e0e0" text-anchor="middle" letter-spacing="0.7">R1 1.3605</text>
<text transform="translate(851,186.5) scale(0.91,1)" x="0.35" y="0" font-family="Liberation Mono" font-weight="bold" font-size="13.33" fill="#e0e0e0" text-anchor="middle" letter-spacing="0.7">P 1.3412</text>
<text transform="translate(851,305.5) scale(0.91,1)" x="0.35" y="0" font-family="Liberation Mono" font-weight="bold" font-size="13.33" fill="#e0e0e0" text-anchor="middle" letter-spacing="0.7">S1 1.3276</text>
<text transform="translate(851,472.5) scale(0.91,1)" x="0.35" y="0" font-family="Liberation Mono" font-weight="bold" font-size="13.33" fill="#e0e0e0" text-anchor="middle" letter-spacing="0.7">S2 1.3083</text>
<line x1="806" y1="125" x2="931.5" y2="17.5" stroke="#ff0000" stroke-width="2.2" stroke-linecap="round"/>
<path d="M939.6,10.7L918.8,16.5L931.5,17.5L931,29.9Z" fill="#ff0000"/>
<line x1="939.6" y1="10.7" x2="990" y2="59" stroke="#ff0000" stroke-width="2.2" stroke-linecap="round"/>
<path d="M997.7,66.7L990.3,46.4L989.5,58.5L977.5,60.3Z" fill="#ff0000"/>
<line x1="802" y1="150" x2="860" y2="203" stroke="#ff0000" stroke-width="2.2" stroke-linecap="round"/>
<path d="M868.4,210.4L862,191.2L860.5,202.5L848.4,204.8Z" fill="#ff0000"/>
<text x="1141" y="25.5" font-family="Liberation Sans" font-size="18.5" fill="#ff0000" text-anchor="middle" textLength="372" lengthAdjust="spacingAndGlyphs">Возможные варианты движения цены</text>
<text x="1142" y="47" font-family="Liberation Sans" font-size="18.5" fill="#ff0000" text-anchor="middle" textLength="238" lengthAdjust="spacingAndGlyphs">Possible price movement</text>
</g>
<g clip-path="url(#cs)">
<rect x="2" y="654" width="3" height="34" fill="#c0c0c0"/><rect x="10" y="650" width="3" height="38" fill="#c0c0c0"/><rect x="18" y="672" width="3" height="16" fill="#c0c0c0"/><rect x="26" y="682" width="3" height="6" fill="#c0c0c0"/><rect x="34" y="688" width="3" height="21" fill="#c0c0c0"/><rect x="42" y="688" width="3" height="33" fill="#c0c0c0"/><rect x="50" y="688" width="3" height="32" fill="#c0c0c0"/><rect x="58" y="688" width="3" height="29" fill="#c0c0c0"/><rect x="66" y="688" width="3" height="24" fill="#c0c0c0"/><rect x="74" y="688" width="3" height="23" fill="#c0c0c0"/><rect x="82" y="688" width="3" height="28" fill="#c0c0c0"/><rect x="90" y="688" width="3" height="29" fill="#c0c0c0"/><rect x="98" y="688" width="3" height="4" fill="#c0c0c0"/><rect x="106" y="679" width="3" height="9" fill="#c0c0c0"/><rect x="114" y="679" width="3" height="9" fill="#c0c0c0"/><rect x="122" y="680" width="3" height="8" fill="#c0c0c0"/><rect x="130" y="685" width="3" height="3" fill="#c0c0c0"/><rect x="138" y="673" width="3" height="15" fill="#c0c0c0"/><rect x="146" y="664" width="3" height="24" fill="#c0c0c0"/><rect x="154" y="661" width="3" height="27" fill="#c0c0c0"/><rect x="162" y="658" width="3" height="30" fill="#c0c0c0"/><rect x="170" y="658" width="3" height="30" fill="#c0c0c0"/><rect x="178" y="655" width="3" height="33" fill="#c0c0c0"/><rect x="186" y="649" width="3" height="39" fill="#c0c0c0"/><rect x="194" y="647" width="3" height="41" fill="#c0c0c0"/><rect x="202" y="647" width="3" height="41" fill="#c0c0c0"/><rect x="210" y="632" width="3" height="56" fill="#c0c0c0"/><rect x="218" y="627" width="3" height="61" fill="#c0c0c0"/><rect x="226" y="617" width="3" height="71" fill="#c0c0c0"/><rect x="234" y="637" width="3" height="51" fill="#c0c0c0"/><rect x="242" y="641" width="3" height="47" fill="#c0c0c0"/><rect x="250" y="642" width="3" height="46" fill="#c0c0c0"/><rect x="258" y="648" width="3" height="40" fill="#c0c0c0"/><rect x="266" y="651" width="3" height="37" fill="#c0c0c0"/><rect x="274" y="629" width="3" height="59" fill="#c0c0c0"/><rect x="282" y="627" width="3" height="61" fill="#c0c0c0"/><rect x="290" y="631" width="3" height="57" fill="#c0c0c0"/><rect x="298" y="636" width="3" height="52" fill="#c0c0c0"/><rect x="306" y="636" width="3" height="52" fill="#c0c0c0"/><rect x="314" y="635" width="3" height="53" fill="#c0c0c0"/><rect x="322" y="639" width="3" height="49" fill="#c0c0c0"/><rect x="330" y="638" width="3" height="50" fill="#c0c0c0"/><rect x="338" y="642" width="3" height="46" fill="#c0c0c0"/><rect x="346" y="646" width="3" height="42" fill="#c0c0c0"/><rect x="354" y="646" width="3" height="42" fill="#c0c0c0"/><rect x="362" y="644" width="3" height="44" fill="#c0c0c0"/><rect x="370" y="644" width="3" height="44" fill="#c0c0c0"/><rect x="378" y="643" width="3" height="45" fill="#c0c0c0"/><rect x="386" y="633" width="3" height="55" fill="#c0c0c0"/><rect x="394" y="616" width="3" height="72" fill="#c0c0c0"/><rect x="402" y="606" width="3" height="82" fill="#c0c0c0"/><rect x="410" y="602" width="3" height="86" fill="#c0c0c0"/><rect x="418" y="607" width="3" height="81" fill="#c0c0c0"/><rect x="426" y="609" width="3" height="79" fill="#c0c0c0"/><rect x="434" y="615" width="3" height="73" fill="#c0c0c0"/><rect x="442" y="619" width="3" height="69" fill="#c0c0c0"/><rect x="450" y="626" width="3" height="62" fill="#c0c0c0"/><rect x="458" y="634" width="3" height="54" fill="#c0c0c0"/><rect x="466" y="628" width="3" height="60" fill="#c0c0c0"/><rect x="474" y="621" width="3" height="67" fill="#c0c0c0"/><rect x="482" y="622" width="3" height="66" fill="#c0c0c0"/><rect x="490" y="621" width="3" height="67" fill="#c0c0c0"/><rect x="498" y="627" width="3" height="61" fill="#c0c0c0"/><rect x="506" y="632" width="3" height="56" fill="#c0c0c0"/><rect x="514" y="627" width="3" height="61" fill="#c0c0c0"/><rect x="522" y="615" width="3" height="73" fill="#c0c0c0"/><rect x="530" y="626" width="3" height="62" fill="#c0c0c0"/><rect x="538" y="636" width="3" height="52" fill="#c0c0c0"/><rect x="546" y="645" width="3" height="43" fill="#c0c0c0"/><rect x="554" y="646" width="3" height="42" fill="#c0c0c0"/><rect x="562" y="656" width="3" height="32" fill="#c0c0c0"/><rect x="570" y="671" width="3" height="17" fill="#c0c0c0"/><rect x="578" y="664" width="3" height="24" fill="#c0c0c0"/><rect x="586" y="657" width="3" height="31" fill="#c0c0c0"/><rect x="594" y="646" width="3" height="42" fill="#c0c0c0"/><rect x="602" y="639" width="3" height="49" fill="#c0c0c0"/><rect x="610" y="624" width="3" height="64" fill="#c0c0c0"/><rect x="618" y="618" width="3" height="70" fill="#c0c0c0"/><rect x="626" y="602" width="3" height="86" fill="#c0c0c0"/><rect x="634" y="601" width="3" height="87" fill="#c0c0c0"/><rect x="642" y="585" width="3" height="103" fill="#c0c0c0"/><rect x="650" y="573" width="3" height="115" fill="#c0c0c0"/><rect x="658" y="572" width="3" height="116" fill="#c0c0c0"/><rect x="666" y="572" width="3" height="116" fill="#c0c0c0"/><rect x="674" y="558" width="3" height="130" fill="#c0c0c0"/><rect x="682" y="547" width="3" height="141" fill="#c0c0c0"/><rect x="690" y="540" width="3" height="148" fill="#c0c0c0"/><rect x="698" y="538" width="3" height="150" fill="#c0c0c0"/><rect x="706" y="555" width="3" height="133" fill="#c0c0c0"/><rect x="714" y="571" width="3" height="117" fill="#c0c0c0"/><rect x="722" y="573" width="3" height="115" fill="#c0c0c0"/><rect x="730" y="590" width="3" height="98" fill="#c0c0c0"/><rect x="738" y="600" width="3" height="88" fill="#c0c0c0"/><rect x="746" y="613" width="3" height="75" fill="#c0c0c0"/><rect x="754" y="633" width="3" height="55" fill="#c0c0c0"/><rect x="762" y="620" width="3" height="68" fill="#c0c0c0"/><rect x="770" y="631" width="3" height="57" fill="#c0c0c0"/><rect x="778" y="632" width="3" height="56" fill="#c0c0c0"/><rect x="786" y="636" width="3" height="52" fill="#c0c0c0"/><rect x="794" y="640" width="3" height="48" fill="#c0c0c0"/>
<polyline points="3.5,676.0 11.5,668.0 19.5,664.0 27.5,664.0 35.5,673.0 43.5,688.0 51.5,700.0 59.5,709.0 67.5,714.0 75.5,714.0 83.5,713.7 91.5,713.3 99.5,708.7 107.5,702.0 115.5,694.8 123.5,689.7 131.5,681.6 139.5,677.7 147.5,676.5 155.5,672.6 163.5,667.7 171.5,663.8 179.5,659.4 187.5,656.7 195.5,653.8 203.5,651.6 211.5,646.5 219.5,640.6 227.5,634.4 235.5,632.5 243.5,631.5 251.5,633.3 259.5,636.9 267.5,644.3 275.5,642.1 283.5,640.3 291.5,637.7 299.5,635.5 307.5,632.3 315.5,633.5 323.5,635.4 331.5,636.5 339.5,638.2 347.5,640.1 355.5,642.0 363.5,643.3 371.5,644.5 379.5,645.2 387.5,642.3 395.5,635.7 403.5,629.9 411.5,621.1 419.5,613.4 427.5,608.6 435.5,608.2 443.5,610.1 451.5,614.9 459.5,621.1 467.5,624.0 475.5,625.7 483.5,626.5 491.5,625.5 499.5,624.4 507.5,625.2 515.5,626.6 523.5,624.3 531.5,625.5 539.5,627.2 547.5,629.1 555.5,632.8 563.5,641.6 571.5,651.1 579.5,655.5 587.5,658.7 595.5,659.2 603.5,655.5 611.5,646.7 619.5,637.2 627.5,626.9 635.5,617.4 643.5,608.0 651.5,598.3 659.5,588.0 667.5,581.2 675.5,572.7 683.5,566.3 691.5,559.9 699.5,552.4 707.5,548.8 715.5,549.8 723.5,554.5 731.5,564.1 739.5,578.0 747.5,590.8 755.5,602.5 763.5,612.1 771.5,620.7 779.5,627.1 787.5,630.3 795.5,632.4" stroke="#ff0000" stroke-width="1" fill="none" shape-rendering="crispEdges"/>
</g>
<rect x="2.5" y="2.5" width="1356" height="523" stroke="#ffffff" stroke-width="1" fill="none" shape-rendering="crispEdges"/>
<rect x="2.5" y="527.5" width="1356" height="202" stroke="#ffffff" stroke-width="1" fill="none" shape-rendering="crispEdges"/>
<path d="M1359,34.5H1361M1359,69.5H1361M1359,103.5H1361M1359,138.5H1361M1359,173.5H1361M1359,208.5H1361M1359,242.5H1361M1359,277.5H1361M1359,312.5H1361M1359,346.5H1361M1359,381.5H1361M1359,416.5H1361M1359,451.5H1361M1359,485.5H1361M1359,520.5H1361M1359,687.5H1361M1359,527.5H1360M3.5,730V733M67.5,730V733M131.5,730V733M195.5,730V733M259.5,730V733M323.5,730V733M387.5,730V733M451.5,730V733M515.5,730V733M579.5,730V733M643.5,730V733M707.5,730V733M771.5,730V733" stroke="#ffffff" stroke-width="1" shape-rendering="crispEdges"/>
<text transform="translate(1363,38) scale(0.95,1)" x="0" y="0" font-family="Liberation Sans" font-size="10" fill="#ffffff">1.3575</text>
<text transform="translate(1363,73) scale(0.95,1)" x="0" y="0" font-family="Liberation Sans" font-size="10" fill="#ffffff">1.3535</text>
<text transform="translate(1363,107) scale(0.95,1)" x="0" y="0" font-family="Liberation Sans" font-size="10" fill="#ffffff">1.3495</text>
<text transform="translate(1363,142) scale(0.95,1)" x="0" y="0" font-family="Liberation Sans" font-size="10" fill="#ffffff">1.3455</text>
<text transform="translate(1363,177) scale(0.95,1)" x="0" y="0" font-family="Liberation Sans" font-size="10" fill="#ffffff">1.3415</text>
<text transform="translate(1363,212) scale(0.95,1)" x="0" y="0" font-family="Liberation Sans" font-size="10" fill="#ffffff">1.3375</text>
<text transform="translate(1363,246) scale(0.95,1)" x="0" y="0" font-family="Liberation Sans" font-size="10" fill="#ffffff">1.3335</text>
<text transform="translate(1363,281) scale(0.95,1)" x="0" y="0" font-family="Liberation Sans" font-size="10" fill="#ffffff">1.3295</text>
<text transform="translate(1363,316) scale(0.95,1)" x="0" y="0" font-family="Liberation Sans" font-size="10" fill="#ffffff">1.3255</text>
<text transform="translate(1363,350) scale(0.95,1)" x="0" y="0" font-family="Liberation Sans" font-size="10" fill="#ffffff">1.3215</text>
<text transform="translate(1363,385) scale(0.95,1)" x="0" y="0" font-family="Liberation Sans" font-size="10" fill="#ffffff">1.3175</text>
<text transform="translate(1363,420) scale(0.95,1)" x="0" y="0" font-family="Liberation Sans" font-size="10" fill="#ffffff">1.3135</text>
<text transform="translate(1363,455) scale(0.95,1)" x="0" y="0" font-family="Liberation Sans" font-size="10" fill="#ffffff">1.3095</text>
<text transform="translate(1363,489) scale(0.95,1)" x="0" y="0" font-family="Liberation Sans" font-size="10" fill="#ffffff">1.3055</text>
<text transform="translate(1363,524) scale(0.95,1)" x="0" y="0" font-family="Liberation Sans" font-size="10" fill="#ffffff">1.3015</text>
<rect x="1360" y="121" width="37" height="11" fill="#ffffff"/>
<text transform="translate(1363,130) scale(0.95,1)" x="0" y="0" font-family="Liberation Sans" font-size="10" fill="#000000">1.3469</text>
<text transform="translate(1362,538) scale(0.95,1)" x="0" y="0" font-family="Liberation Sans" font-size="10" fill="#ffffff">0.01289</text>
<text transform="translate(1362,691) scale(0.95,1)" x="0" y="0" font-family="Liberation Sans" font-size="10" fill="#ffffff">0.00</text>
<text transform="translate(1362,726) scale(0.95,1)" x="0" y="0" font-family="Liberation Sans" font-size="10" fill="#ffffff">-0.00335</text>
<text transform="translate(3,742) scale(0.95,1)" x="0" y="0" font-family="Liberation Sans" font-size="10" fill="#ffffff">10 Nov 2017</text>
<text transform="translate(67,742) scale(0.95,1)" x="0" y="0" font-family="Liberation Sans" font-size="10" fill="#ffffff">14 Nov 00:00</text>
<text transform="translate(131,742) scale(0.95,1)" x="0" y="0" font-family="Liberation Sans" font-size="10" fill="#ffffff">15 Nov 08:00</text>
<text transform="translate(195,742) scale(0.95,1)" x="0" y="0" font-family="Liberation Sans" font-size="10" fill="#ffffff">16 Nov 16:00</text>
<text transform="translate(259,742) scale(0.95,1)" x="0" y="0" font-family="Liberation Sans" font-size="10" fill="#ffffff">20 Nov 00:00</text>
<text transform="translate(323,742) scale(0.95,1)" x="0" y="0" font-family="Liberation Sans" font-size="10" fill="#ffffff">21 Nov 08:00</text>
<text transform="translate(387,742) scale(0.95,1)" x="0" y="0" font-family="Liberation Sans" font-size="10" fill="#ffffff">22 Nov 16:00</text>
<text transform="translate(451,742) scale(0.95,1)" x="0" y="0" font-family="Liberation Sans" font-size="10" fill="#ffffff">24 Nov 00:00</text>
<text transform="translate(515,742) scale(0.95,1)" x="0" y="0" font-family="Liberation Sans" font-size="10" fill="#ffffff">27 Nov 08:00</text>
<text transform="translate(579,742) scale(0.95,1)" x="0" y="0" font-family="Liberation Sans" font-size="10" fill="#ffffff">28 Nov 16:00</text>
<text transform="translate(643,742) scale(0.95,1)" x="0" y="0" font-family="Liberation Sans" font-size="10" fill="#ffffff">30 Nov 00:00</text>
<text transform="translate(707,742) scale(0.95,1)" x="0" y="0" font-family="Liberation Sans" font-size="10" fill="#ffffff">1 Dec 08:00</text>
<text transform="translate(771,742) scale(0.95,1)" x="0" y="0" font-family="Liberation Sans" font-size="10" fill="#ffffff">4 Dec 16:00</text>
<path d="M6,9H13L9.5,13Z" fill="#ffffff"/>
<text transform="translate(18,14) scale(0.95,1)" x="0" y="0" font-family="Liberation Sans" font-size="10" fill="#ffffff">GBPUSD,H4 &#160;1.3470 1.3475 1.3462 1.3469</text>
<text transform="translate(7,540) scale(0.95,1)" x="0" y="0" font-family="Liberation Sans" font-size="10" fill="#ffffff">MACD(5,34,5) 0.00383 0.00450</text>
<rect x="3" y="681" width="394" height="66" fill="rgb(211,62,67)" fill-opacity="0.45" mask="url(#wm)"/>
<g fill="#ffffff" fill-opacity="0.58"><text x="23" y="727" font-family="Liberation Sans" font-size="40" >[</text><text x="52" y="727" font-family="Liberation Sans" font-size="40" textLength="86" lengthAdjust="spacingAndGlyphs" >www</text><text x="135.5" y="727" font-family="Liberation Sans" font-size="40" >.</text><text x="145" y="727" font-family="Liberation Sans" font-size="40" textLength="163" lengthAdjust="spacingAndGlyphs" >instaforex</text><text x="303" y="727" font-family="Liberation Sans" font-size="30" textLength="60" lengthAdjust="spacingAndGlyphs" >.com</text><text x="368" y="727" font-family="Liberation Sans" font-size="30" >]</text></g>
</svg>
</body></html>
